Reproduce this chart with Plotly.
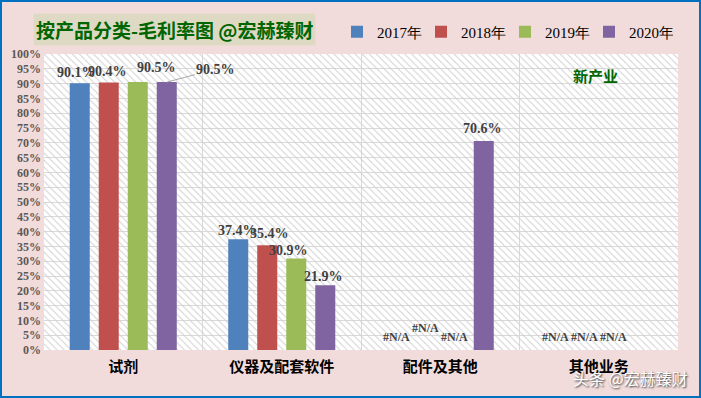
import plotly.graph_objects as go

categories = ["试剂", "仪器及配套软件", "配件及其他", "其他业务"]
series_names = ["2017年", "2018年", "2019年", "2020年"]
v2017 = [0.901, 0.374, None, None]
v2018 = [0.904, 0.354, None, None]
v2019 = [0.905, 0.309, None, None]
v2020 = [0.905, 0.219, 0.706, None]
values = [v2017, v2018, v2019, v2020]
colors = ["#4F81BD", "#C0504D", "#9BBB59", "#8064A2"]

# which missing cells show an "#N/A" label (Excel behaviour)
na_shown = [[False, False, True, True],
            [False, False, True, True],
            [False, False, True, True],
            [False, False, False, False]]

W, H = 701, 398
ML, MR, MT, MB = 44, 23, 54, 48
PW, PH = W - ML - MR, H - MT - MB

serif = "Liberation Serif, Times New Roman, serif"
cjk = "Noto Sans CJK SC, sans-serif"

fig = go.Figure()

# hatched plot-area background (drawn on the base axis, beneath the bars)
fig.add_trace(go.Bar(
    x=[0.5], y=[1], width=[1], xaxis="x", yaxis="y",
    marker=dict(color="rgba(0,0,0,0)", line=dict(width=0),
                pattern=dict(shape="\\", fgcolor="#D0D0D0", bgcolor="rgba(0,0,0,0)",
                             size=5, solidity=0.2, fillmode="replace")),
    showlegend=False, hoverinfo="skip"))

for name, vals, col in zip(series_names, values, colors):
    fig.add_trace(go.Bar(x=categories, y=vals, name=name, marker_color=col,
                         marker_line_width=0, xaxis="x2", yaxis="y"))

# data labels (label offsets emulate Excel's manual label placement)
slot = PW / 4 * (1 - 0.268) / 4
centers = [(-1.5 + i) * slot for i in range(4)]
label_dx = [[-3, -1, 0, 0], [-1, 2, 0, 0], [19, -8, 0, 0], [49, -2, -1, 0]]
label_dy = [[11, 9, 13, 13], [11, 12, 22, 13], [15, 8.5, 13, 13], [13, 9, 13, 13]]

annotations = []
for s in range(4):
    for c in range(4):
        v = values[s][c]
        if v is None:
            if not na_shown[s][c]:
                continue
            txt, y, fs = "#N/A", 0, 12
        else:
            txt, y, fs = f"{v*100:.1f}%", v, 14
        lbl_font = dict(family=serif, size=fs, color="#404040", weight="bold")
        if s == 3 and c == 0:
            annotations.append(dict(
                x=categories[c], y=y, xref="x2", yref="y", xshift=centers[s],
                text=txt, showarrow=True, arrowhead=0, arrowwidth=1,
                arrowcolor="#A6A6A6", ax=label_dx[s][c], ay=-label_dy[s][c],
                standoff=0, font=lbl_font))
        else:
            annotations.append(dict(
                x=categories[c], y=y, xref="x2", yref="y",
                xshift=centers[s] + label_dx[s][c], yshift=label_dy[s][c],
                yanchor="middle", text=txt, showarrow=False, font=lbl_font))

# title box
annotations.append(dict(
    x=(33 - ML) / PW, y=1 + (MT - 13) / PH, xref="paper", yref="paper",
    xanchor="left", yanchor="top", text="<b>按产品分类-毛利率图 @宏赫臻财</b>",
    showarrow=False, bgcolor="#DDD9C3", borderpad=2,
    font=dict(family=cjk, size=19, color="#006600")))
annotations.append(dict(
    x=(595 - ML) / PW, y=1 - (75 - MT) / PH, xref="paper", yref="paper",
    xanchor="center", yanchor="middle",
    text="<b>新产业</b>", showarrow=False,
    font=dict(family=cjk, size=15, color="#006600")))
# watermark
annotations.append(dict(
    x=(690 - ML) / PW, y=-(378 - PH - MT) / PH, xref="paper", yref="paper",
    xanchor="right", yanchor="middle", text="头条 @宏赫臻财", showarrow=False,
    font=dict(family=cjk, size=16, color="white", shadow="1px 1px 2px #333")))

fig.update_layout(
    width=W, height=H,
    margin=dict(l=ML, r=MR, t=MT, b=MB, autoexpand=False),
    paper_bgcolor="#F2DCDB", plot_bgcolor="white",
    barmode="group", bargap=0.268, bargroupgap=0.31,
    xaxis=dict(range=[0, 1], visible=False, showgrid=False, fixedrange=True),
    xaxis2=dict(overlaying="x", type="category", categoryarray=categories,
                tickson="boundaries", showgrid=True, gridcolor="#D9D9D9", gridwidth=1,
                ticks="", showline=False, ticklabelstandoff=6, automargin=False,
                tickfont=dict(family=cjk, size=15, color="black", weight="bold")),
    yaxis=dict(range=[0, 1], dtick=0.05, tickformat=".0%", showgrid=True,
               gridcolor="#D9D9D9", gridwidth=1, zeroline=False, ticks="",
               ticklabelstandoff=2, automargin=False,
               tickfont=dict(family=serif, size=12, color="#595959", weight="bold")),
    legend=dict(orientation="h", x=(337 - ML) / PW, y=1 + (MT - 32) / PH,
                xanchor="left", yanchor="middle", bgcolor="rgba(0,0,0,0)",
                entrywidth=39, entrywidthmode="pixels", itemwidth=30,
                font=dict(family=serif, size=15, color="black")),
    annotations=annotations,
    shapes=[dict(type="rect", xref="paper", yref="paper",
                 x0=-(ML - 1) / PW, x1=1 + (MR - 1) / PW,
                 y0=-(MB - 1) / PH, y1=1 + (MT - 1) / PH,
                 line=dict(color="#0070C0", width=2), layer="above")],
)

fig.write_html("out.html", config={"displayModeBar": False},
               post_script="document.body.style.margin='0';")
